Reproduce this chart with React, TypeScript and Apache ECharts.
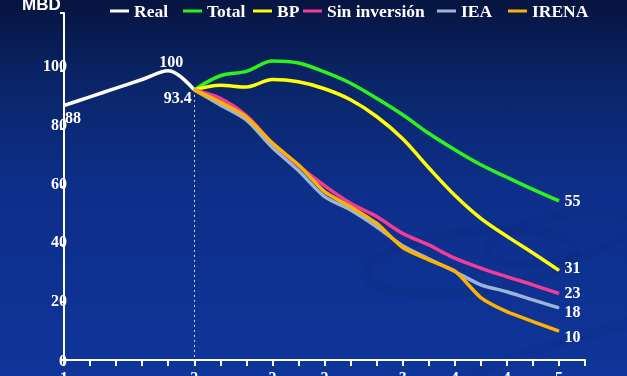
import React, { useEffect, useRef } from "react";
import * as echarts from "echarts";

const categories = ["1", "", "", "", "", "2", "", "", "2", "", "2", "", "", "3", "", "4", "", "4", "", "5", ""];
const real = [88, 91, 94, 97, 100, 93.4];
const total = [null, null, null, null, null, 93.4, 98.3, 99.8, 103.4, 102.7, 99.6, 95.7, 90.5, 84.8, 78.4, 72.7, 67.5, 63.2, 59, 55];
const bp = [null, null, null, null, null, 93.4, 95.0, 94.4, 97.0, 96.2, 93.8, 90.0, 84.2, 76.5, 66.5, 57.0, 49.0, 42.8, 37.0, 31];
const sinInversion = [null, null, null, null, null, 93.4, 90.5, 84.5, 75, 67.2, 60.3, 54.2, 49.6, 43.8, 39.8, 35.2, 31.8, 28.8, 26, 23];
const iea = [null, null, null, null, null, 93.4, 88.2, 83, 73.5, 65.5, 56.5, 51.9, 46.1, 39.5, 35, 30.6, 26, 23.6, 20.8, 18];
const irena = [null, null, null, null, null, 93.4, 89.2, 84, 75, 67.5, 58.2, 53, 47.3, 38.9, 34.6, 30.8, 21.6, 16.7, 13.3, 10];
const yTicks = [0, 20, 40, 60, 80, 100];

const SERIF = "'Liberation Serif', 'Times New Roman', serif";

export default function App() {
  const ref = useRef<HTMLDivElement>(null);
  useEffect(() => {
    document.body.style.margin = "0";
    const chart = echarts.init(ref.current!, null, { renderer: "svg" });
    const lblStyle = { color: "#ffffff", fontFamily: SERIF, fontWeight: "bold", fontSize: 16 };
    const endLabel = (arr: (number | null)[], dy: number) =>
      arr.map((v, i) =>
        i === arr.length - 1
          ? { value: v, label: { show: true, position: "right", distance: 5, offset: [0, dy], formatter: "{c}", ...lblStyle } }
          : v
      );
    const realData = real.map((v, i) => {
      if (i === 0) return { value: v, label: { show: true, position: "bottom", distance: 3, offset: [9, 0], formatter: "{c}", ...lblStyle } };
      if (i === 4) return { value: v, label: { show: true, position: "top", distance: 1, offset: [3, 0], formatter: "{c}", ...lblStyle } };
      if (i === 5) return { value: v, label: { show: true, position: "left", distance: 2, offset: [0, 8], formatter: "{c}", ...lblStyle } };
      return v;
    });
    const mk = (name: string, data: any[], color: string, z: number, smooth = 0.35) => ({
      name,
      type: "line",
      data,
      smooth,
      symbol: "circle",
      symbolSize: 1,
      showSymbol: true,
      showAllSymbol: true,
      connectNulls: false,
      z,
      lineStyle: { color, width: 3.5 },
      itemStyle: { color },
      emphasis: { disabled: true },
    });
    const legendPos: [string, number][] = [
      ["Real", 110],
      ["Total", 183],
      ["BP", 253],
      ["Sin inversión", 303],
      ["IEA", 437],
      ["IRENA", 508],
    ];
    const yShift: Record<number, number> = { 0: 0, 20: 4, 40: 5, 60: 6, 80: 8, 100: 10 };
    const yRich: any = {};
    yTicks.forEach((t) => {
      yRich["v" + t] = { ...lblStyle, padding: [0, 0, yShift[t], 0] };
    });
    const option: any = {
      animation: false,
      graphic: [
        {
          type: "rect",
          z: -100,
          silent: true,
          shape: { x: 0, y: 0, width: 627, height: 376 },
          style: {
            fill: new echarts.graphic.LinearGradient(0, 0, 0, 1, [
              { offset: 0, color: "#06143f" },
              { offset: 0.22, color: "#0a2568" },
              { offset: 0.5, color: "#0d2f8a" },
              { offset: 1, color: "#0f359a" },
            ]),
          },
        },
        {
          type: "ellipse",
          z: -90,
          silent: true,
          shape: { cx: 470, cy: 262, rx: 105, ry: 30 },
          rotation: 0.12,
          originX: 470,
          originY: 262,
          style: { fill: "none", stroke: "#0a2675", lineWidth: 9, opacity: 0.18 },
        },
        {
          type: "ellipse",
          z: -90,
          silent: true,
          shape: { cx: 560, cy: 238, rx: 75, ry: 22 },
          rotation: 0.2,
          originX: 560,
          originY: 238,
          style: { fill: "none", stroke: "#0a2675", lineWidth: 8, opacity: 0.16 },
        },
        {
          type: "ellipse",
          z: -90,
          silent: true,
          shape: { cx: 600, cy: 360, rx: 200, ry: 28 },
          rotation: 0.28,
          originX: 600,
          originY: 360,
          style: { fill: "none", stroke: "#0b2a80", lineWidth: 11, opacity: 0.2 },
        },
        {
          type: "text",
          left: 22,
          top: -4,
          style: { text: "MBD", fill: "#ffffff", font: "bold 17px 'Liberation Sans', Arial, sans-serif" },
        },
      ],
      legend: legendPos.map(([name, left]) => ({
        data: [name],
        left,
        top: 2,
        padding: 0,
        icon: "rect",
        itemWidth: 19,
        itemHeight: 3,
        itemGap: 0,
        selectedMode: false,
        textStyle: { color: "#ffffff", fontFamily: SERIF, fontWeight: "bold", fontSize: 17.5 },
      })),
      grid: { left: 64, right: 42, top: 13, bottom: 16, containLabel: false, outerBoundsMode: "none" },
      xAxis: {
        type: "category",
        data: categories,
        boundaryGap: false,
        axisLine: { lineStyle: { color: "#ffffff", width: 2 } },
        axisTick: { show: true, length: 6, interval: 0, lineStyle: { color: "#ffffff", width: 2 } },
        axisLabel: {
          interval: 0,
          margin: 9,
          color: "#ffffff",
          fontFamily: SERIF,
          fontWeight: "bold",
          fontSize: 16,
        },
        splitLine: { show: false },
      },
      yAxis: {
        type: "value",
        min: 0,
        max: 120,
        interval: 20,
        axisLine: { show: true, lineStyle: { color: "#ffffff", width: 2 } },
        axisTick: { show: true, length: 4, lineStyle: { color: "#ffffff", width: 2 } },
        axisLabel: {
          margin: -3,
          color: "#ffffff",
          fontFamily: SERIF,
          fontWeight: "bold",
          fontSize: 16,
          rich: yRich,
          formatter: (v: number) => (yTicks.includes(v) ? `{v${v}|${v}}` : ""),
        },
        splitLine: { show: false },
      },
      series: [
        {
          ...mk("Real", realData, "#ffffff", 2),
          markLine: {
            silent: true,
            symbol: "none",
            label: { show: false },
            lineStyle: { color: "#ffffff", width: 1, type: [2, 3], opacity: 0.8 },
            data: [[{ coord: [5, 93.4] }, { coord: [5, 0] }]],
          },
        },
        mk("Total", endLabel(total, 0), "#2df21c", 3),
        mk("BP", endLabel(bp, -3), "#ffff0a", 4),
        mk("Sin inversión", endLabel(sinInversion, -1), "#f23d97", 5),
        mk("IEA", endLabel(iea, 4), "#9cb5d6", 6, 0.25),
        mk("IRENA", endLabel(irena, 5), "#ffb300", 7, 0.2),
      ],
    };
    chart.setOption(option);
    return () => chart.dispose();
  }, []);
  return <div ref={ref} style={{ position: "fixed", left: 0, top: 0, width: 627, height: 376 }} />;
}
